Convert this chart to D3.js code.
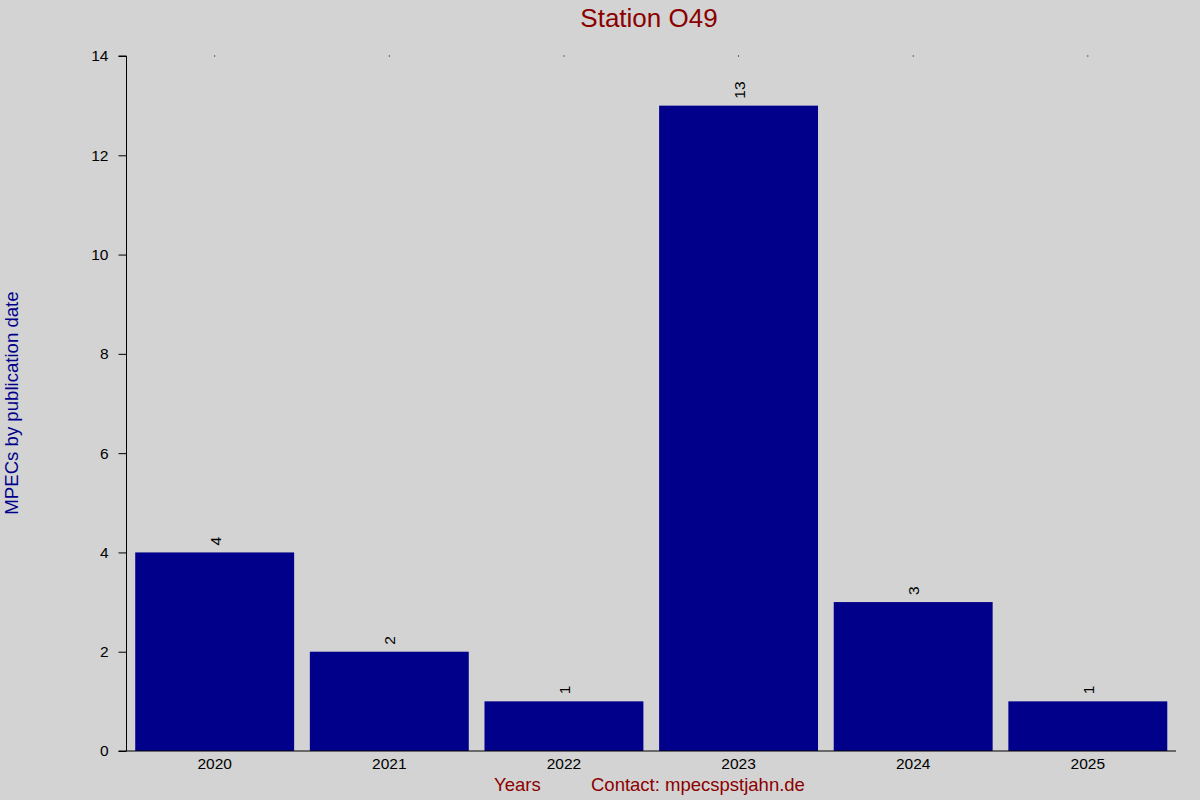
<!DOCTYPE html>
<html>
<head>
<meta charset="utf-8">
<script src="https://cdn.jsdelivr.net/npm/d3@7"></script>
<style>
  body { margin: 0; background: #d3d3d3; }
  svg { display: block; font-family: "Liberation Sans", Arial, sans-serif; }
</style>
</head>
<body>
<svg id="chart" width="1200" height="800"></svg>
<script>
// data
var years = ["2020", "2021", "2022", "2023", "2024", "2025"];
var counts = [4, 2, 1, 13, 3, 1];
var yTicks = [0, 2, 4, 6, 8, 10, 12, 14];

var svg = d3.select("#chart"),
    plotLeft = 126.5, plotRight = 1176, plotTop = 56, plotBottom = 751;

svg.append("rect")
  .attr("width", 1200).attr("height", 800)
  .style("fill", "#d3d3d3");

var x = d3.scaleBand()
  .domain(years)
  .range([plotLeft, plotRight])
  .paddingInner(0.09)
  .paddingOuter(0.05);

var y = d3.scaleLinear()
  .domain([0, 14])
  .range([plotBottom, plotTop]);

// bars
svg.append("g")
  .selectAll("rect")
  .data(years)
  .enter()
  .append("rect")
  .attr("x", function(d) { return x(d); })
  .attr("y", function(d, i) { return y(counts[i]); })
  .attr("width", x.bandwidth())
  .attr("height", function(d, i) { return y(0) - y(counts[i]); })
  .style("fill", "#00008b");

// value labels, turned on their side
svg.append("g")
  .selectAll("text")
  .data(years)
  .enter()
  .append("text")
  .attr("transform", function(d, i) {
    return "translate(" + (x(d) + x.bandwidth() / 2 + 6) + "," + (y(counts[i]) - 7) + ")rotate(-90)";
  })
  .style("font-size", "15.5px")
  .style("fill", "#000")
  .text(function(d, i) { return counts[i]; });

// little dots on top at each category
svg.append("g")
  .selectAll("rect")
  .data(years)
  .enter()
  .append("rect")
  .attr("x", function(d) { return x(d) + x.bandwidth() / 2 - 0.5; })
  .attr("y", plotTop - 0.5)
  .attr("width", 1).attr("height", 1)
  .style("fill", "#000");

// y axis
var yAxis = svg.append("g")
  .attr("transform", "translate(" + plotLeft + ",0)")
  .call(d3.axisLeft(y).tickValues(yTicks).tickSize(8).tickSizeOuter(8).tickPadding(10));
yAxis.select(".domain").attr("d", "M-8," + plotTop + "H0V" + plotBottom).style("stroke", "#000");
yAxis.selectAll(".tick line").style("stroke", "#000");
yAxis.selectAll("text").style("font-size", "15.5px").style("fill", "#000").style("font-family", "Liberation Sans, Arial, sans-serif");

// x axis
var xAxis = svg.append("g")
  .attr("transform", "translate(0," + plotBottom + ")")
  .call(d3.axisBottom(x).tickSize(0).tickPadding(7));
xAxis.select(".domain").attr("d", "M" + (plotLeft - 8) + ",0H" + plotRight).style("stroke", "#000");
xAxis.selectAll("text").style("font-size", "15.5px").style("fill", "#000").style("font-family", "Liberation Sans, Arial, sans-serif");

// title
svg.append("text")
  .attr("x", 649)
  .attr("y", 27)
  .attr("text-anchor", "middle")
  .style("font-size", "26px")
  .style("fill", "#8b0000")
  .text("Station O49");

// y label
svg.append("text")
  .attr("text-anchor", "middle")
  .attr("transform", "translate(18,403)rotate(-90)")
  .style("font-size", "18.6px")
  .style("fill", "#00008b")
  .text("MPECs by publication date");

// bottom labels
svg.append("text")
  .attr("x", 494).attr("y", 791)
  .style("font-size", "18.5px")
  .style("fill", "#8b0000")
  .text("Years");

svg.append("text")
  .attr("x", 591).attr("y", 791)
  .style("font-size", "18.5px")
  .style("fill", "#8b0000")
  .text("Contact: mpecspstjahn.de");
</script>
</body>
</html>
